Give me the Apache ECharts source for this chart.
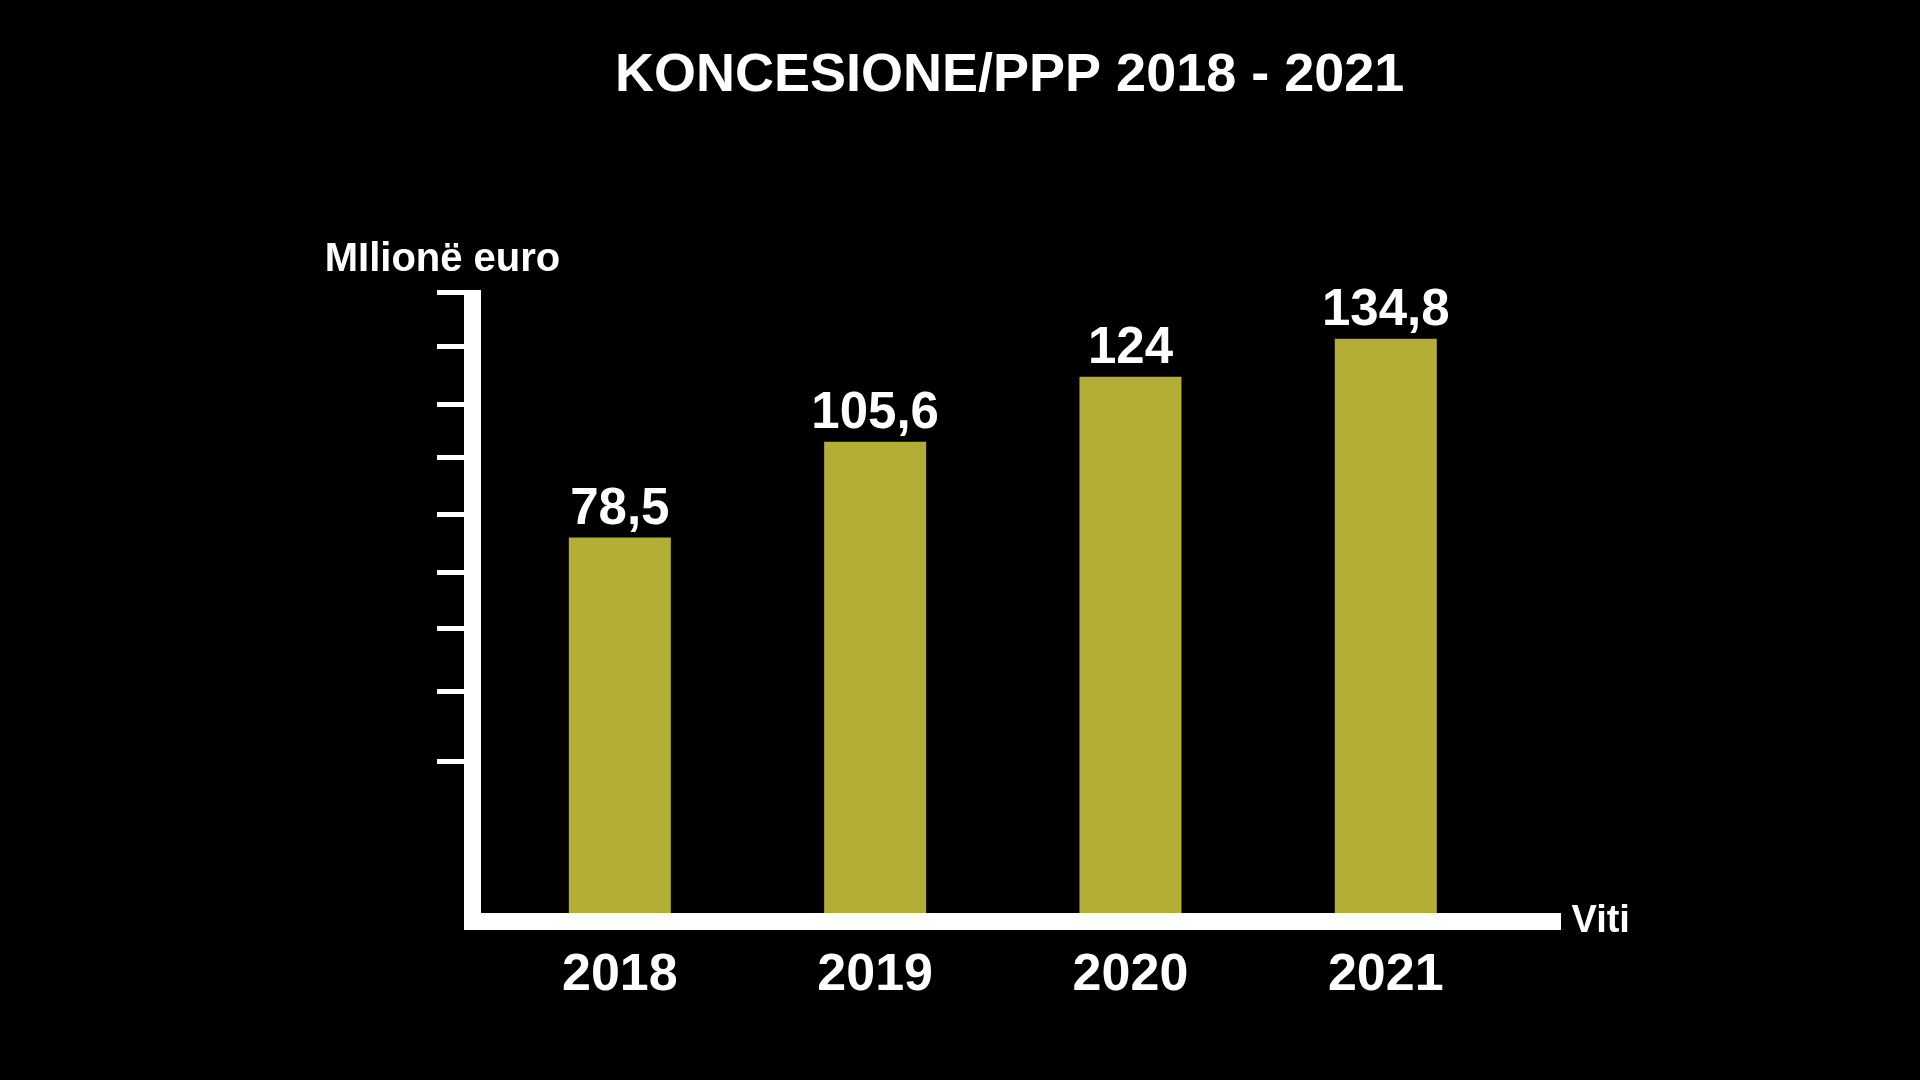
<!DOCTYPE html>
<html lang="sq">
<head>
  <meta charset="UTF-8" />
  <title>KONCESIONE/PPP 2018 - 2021</title>
  <script src="https://cdn.jsdelivr.net/npm/echarts@6.0.0/dist/echarts.min.js"></script>
  <style>
    * { margin: 0; padding: 0; box-sizing: border-box; }
    body { background: #000; width: 1920px; height: 1080px; overflow: hidden; }
    #chart { width: 1920px; height: 1080px; }
  </style>
</head>
<body>
  <div id="chart"></div>
  <script>
    const years = [2018, 2019, 2020, 2021];
    const values = [78.5, 105.6, 124, 134.8];
    // tick marks on the left axis (no labels in the original)
    const yTicks = [15, 34.9, 52.7, 68.6, 85, 101.1, 116.2, 132.6, 147.9];

    const font = "'Liberation Sans', Arial, sans-serif";
    const chart = echarts.init(document.getElementById('chart'));

    chart.setOption({
      backgroundColor: '#000',
      animation: false,
      title: {
        text: 'KONCESIONE/PPP 2018 - 2021',
        left: 610,
        top: 44,
        textStyle: { color: '#fff', fontSize: 54, fontWeight: 'bold', fontFamily: font }
      },
      grid: { left: 472.5, right: 367.5, top: 290, bottom: 158.5 },
      xAxis: {
        type: 'value',
        z: 5,
        min: 2017.423,
        max: 2021.653,
        name: 'Viti',
        nameLocation: 'end',
        nameGap: 19,
        nameTextStyle: {
          color: '#fff', fontSize: 38, fontWeight: 'bold', fontFamily: font,
          padding: [0, 0, 18, 0]
        },
        axisLine: { onZero: false, lineStyle: { color: '#fff', width: 17, cap: 'square' } },
        axisTick: { show: false },
        splitLine: { show: false },
        axisLabel: {
          customValues: years,
          formatter: v => String(v),
          color: '#fff', fontSize: 52, fontWeight: 'bold', fontFamily: font,
          margin: 28
        }
      },
      yAxis: {
        type: 'value',
        z: 5,
        min: -30.3,
        max: 148.6,
        startValue: -30.3,
        name: 'MIlionë euro',
        nameLocation: 'end',
        nameGap: 10,
        nameTextStyle: {
          color: '#fff', fontSize: 40, fontWeight: 'bold', fontFamily: font,
          align: 'center', padding: [0, 60, 0, 0]
        },
        axisLine: { show: true, onZero: false, lineStyle: { color: '#fff', width: 17, cap: 'butt' } },
        axisTick: {
          show: true,
          customValues: yTicks,
          length: 35.5,
          lineStyle: { color: '#fff', width: 5, cap: 'butt' }
        },
        axisLabel: { show: false },
        splitLine: { show: false }
      },
      series: [{
        type: 'bar',
        z: 1,
        data: years.map((y, i) => [y, values[i]]),
        barWidth: 102,
        itemStyle: { color: '#b3ae36' },
        label: {
          show: true,
          position: 'top',
          distance: 2,
          formatter: p => String(p.value[1]).replace('.', ','),
          color: '#fff', fontSize: 51, fontWeight: 'bold', fontFamily: font
        }
      }]
    });
  </script>
</body>
</html>
